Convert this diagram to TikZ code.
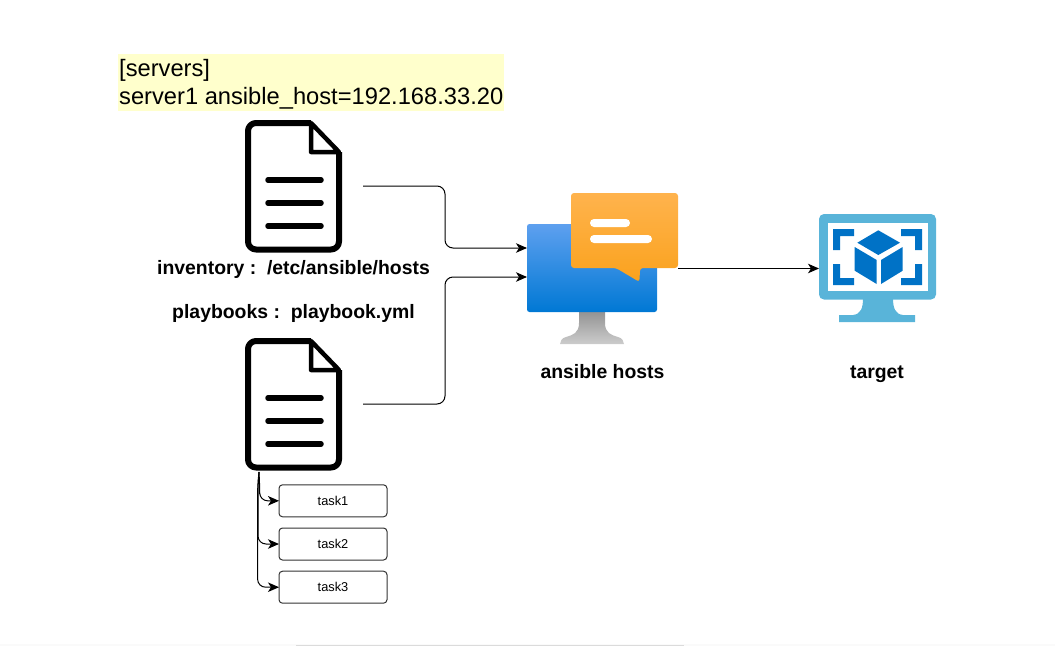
\documentclass[tikz,border=0pt]{standalone}
\usepackage{fontspec}
\setmainfont{Liberation Sans}
\usetikzlibrary{arrows.meta}

\definecolor{notefill}{HTML}{FFFFCC}
\definecolor{screentop}{HTML}{5EA0EF}
\definecolor{screenbot}{HTML}{0078D4}
\definecolor{standtop}{HTML}{949494}
\definecolor{standbot}{HTML}{CCCCCC}
\definecolor{bubbletop}{HTML}{FFB34D}
\definecolor{bubblebot}{HTML}{FAA21D}
\definecolor{targetsky}{HTML}{59B4D9}
\definecolor{targetblue}{HTML}{0072C6}

\tikzset{
  imgbox/.style={inner sep=0pt, outer sep=0pt},
  conn/.style={-{Stealth[length=11pt,width=9.5pt,inset=3pt]}, line width=1pt, rounded corners=8pt},
  title/.style={font=\fontsize{19.4}{23}\selectfont\bfseries, inner sep=0pt},
  taskbox/.style={draw=black!80, line width=1pt, rounded corners=3.5pt, minimum width=108pt,
    minimum height=32pt, inner sep=0pt, outer sep=0pt, font=\fontsize{12.8}{15}\selectfont},
  docicon/.pic={
    \draw[line width=6pt, line join=round, rounded corners=8pt]
      (17,-63) -- (-46,-63) -- (-46,63.5) -- (45,63.5) -- (45,-34);
    \draw[line width=4.5pt, line join=round] (45,-34) -- (17,-63) -- (17,-34) -- cycle;
    \foreach \y in {-6,17,40} {
      \draw[line width=5.5pt, line cap=round] (-26,\y) -- (27,\y);
    }
  }
}

\begin{document}
\begin{tikzpicture}[x=1pt,y=-1pt]
  \useasboundingbox (0,0) rectangle (1055,646);

  % note
  \node[fill=notefill, inner sep=0pt, minimum width=386pt, minimum height=57pt, anchor=north west] (note) at (118,54) {};
  \node[anchor=west, inner sep=0pt, font=\fontsize{23.7}{28}\selectfont, align=left] (notetext) at (119,84)
    {[servers]\\server1 ansible\_host=192.168.33.20};

  % files
  \node[imgbox, minimum width=138pt, minimum height=132pt] (inventory) at (294,186) {};
  \node[imgbox, minimum width=138pt, minimum height=132pt] (playfile) at (294,404) {};
  \pic at (inventory) {docicon};
  \pic at (playfile) {docicon};
  \node[title] (invlabel) at (293.5,269) {inventory :\ \ /etc/ansible/hosts};
  \node[title] (playlabel) at (293.5,313) {playbooks :\ \ playbook.yml};

  % ansible host
  \node[imgbox, minimum width=151pt, minimum height=151pt] (ansible) at (602.5,268.5) {};
  \shade[top color=standtop, bottom color=standbot]
    (579,312) -- (579,323) .. controls (579,333) and (573,335) .. (566,337) .. controls (562,338) and (560,341) .. (560,344)
    -- (624,344) .. controls (624,341) and (622,338) .. (618,337) .. controls (611,335) and (605,333) .. (605,323) -- (605,312) -- cycle;
  \shade[top color=screentop, bottom color=screenbot, rounded corners=2.5pt] (527,224) rectangle (657,312);
  \shade[top color=bubbletop, bottom color=bubblebot, rounded corners=3pt]
    (571,193) -- (678,193) -- (678,268) -- (640,268) -- (639.5,282) -- (616,268) -- (571,268) -- cycle;
  \fill[white, rounded corners=4pt] (590,219) rectangle (630,227);
  \fill[white, rounded corners=4pt] (590,235) rectangle (652,243);
  \node[title] (hostlabel) at (602.5,372) {ansible hosts};

  % target
  \node[imgbox, minimum width=117pt, minimum height=108pt] (target) at (877.5,268.5) {};
  \fill[targetsky]
    (863,298) .. controls (863,308) and (861,314) .. (853,315) -- (839,315) -- (839,322) -- (915,322) -- (915,315) -- (903,315)
    .. controls (895,314) and (893,308) .. (893,298) -- cycle;
  \fill[targetsky, rounded corners=5pt] (819,214) rectangle (936,299.5);
  \fill[white] (827.5,223) rectangle (927.5,290.5);
  \fill[targetblue]
    (833,229) -- (854,229) -- (854,236) -- (840,236) -- (840,250) -- (833,250) -- cycle
    (922,229) -- (901,229) -- (901,236) -- (915,236) -- (915,250) -- (922,250) -- cycle
    (833,285) -- (854,285) -- (854,278) -- (840,278) -- (840,264) -- (833,264) -- cycle
    (922,285) -- (901,285) -- (901,278) -- (915,278) -- (915,264) -- (922,264) -- cycle;
  \fill[targetblue]
    (878.3,230.3) -- (900,242.7) -- (878.3,255) -- (857.3,242.7) -- cycle
    (854.7,247) -- (876.7,260) -- (876.7,284) -- (854.7,270.7) -- cycle
    (881,260) -- (902.7,247) -- (902.7,270.7) -- (881,284) -- cycle;
  \node[title] (targetlabel) at (877,374) {target};

  % tasks
  \foreach \n/\ypos in {1/500.8,2/544,3/587.2} {
    \node[taskbox] (task\n) at (333,\ypos) {task\n};
  }

  % connectors
  \coordinate (hostin1) at (527,248);
  \coordinate (hostin2) at (527,277);
  \coordinate (taskstart) at (259,472);
  \draw[conn] (inventory.east) -- ++(82,0) |- (hostin1);
  \draw[conn] (playfile.east) -- ++(82,0) |- (hostin2);
  \draw[conn, rounded corners=0pt] (ansible.east) -- (target.west);
  \foreach \n/\dx in {1/0.7,2/-1,3/-1.4} {
    \draw[conn] (taskstart) -- ++(\dx,14) |- (task\n.west);
  }

  % strip at the lower edge
  \fill[black!2] (0,644) rectangle (1055,646);
  \fill[black!14] (296,644.6) rectangle (684,646);
\end{tikzpicture}
\end{document}
